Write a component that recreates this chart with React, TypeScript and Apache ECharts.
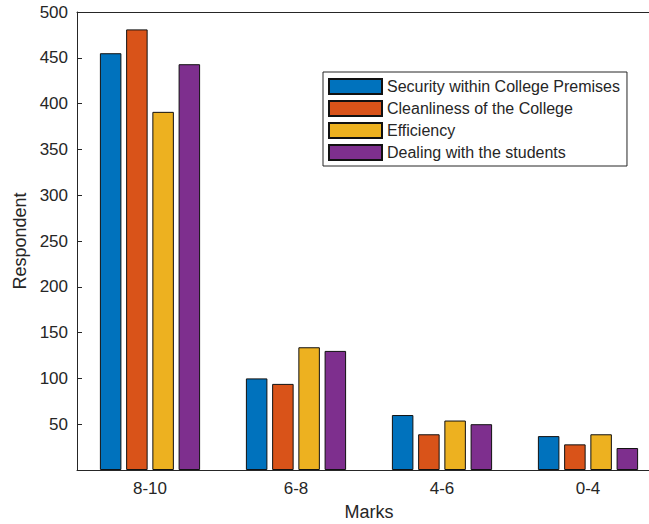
import React, { useEffect, useRef } from "react";
import * as echarts from "echarts";

const categories = ["8-10", "6-8", "4-6", "0-4"];
const seriesNames = [
  "Security within College Premises",
  "Cleanliness of the College",
  "Efficiency",
  "Dealing with the students",
];
const security = [455, 100, 60, 37];
const cleanliness = [481, 94, 39, 28];
const efficiency = [391, 134, 54, 39];
const dealing = [443, 130, 50, 24];
const colors = ["#0072BD", "#D95319", "#EDB120", "#7E2F8E"];

const FONT = "'Liberation Sans', Arial, Helvetica, sans-serif";
const INK = "#262626";

export default function App() {
  const ref = useRef<HTMLDivElement>(null);
  useEffect(() => {
    if (!ref.current) return;
    const chart = echarts.init(ref.current, undefined, { renderer: "svg" });
    const values = [security, cleanliness, efficiency, dealing];
    chart.setOption({
      animation: false,
      backgroundColor: "#ffffff",
      textStyle: { fontFamily: FONT },
      grid: {
        left: 77,
        right: -12,
        top: 12,
        bottom: 54,
        containLabel: false,
        outerBoundsMode: "none",
      },
      legend: {
        orient: "vertical",
        left: 323,
        top: 72,
        padding: [6, 7, 5, 5],
        icon: "rect",
        itemWidth: 53,
        itemHeight: 15,
        itemGap: 5,
        borderColor: INK,
        borderWidth: 1,
        backgroundColor: "#ffffff",
        textStyle: { fontFamily: FONT, fontSize: 16, color: INK },
        data: seriesNames,
      },
      xAxis: [
        {
          type: "category",
          data: categories,
          position: "bottom",
          name: "Marks",
          nameLocation: "middle",
          nameGap: 33,
          nameTextStyle: { fontFamily: FONT, fontSize: 18, color: INK },
          axisLine: { lineStyle: { color: INK, width: 1 } },
          axisTick: { inside: true, alignWithLabel: true, length: 5, lineStyle: { color: INK } },
          axisLabel: { fontFamily: FONT, fontSize: 17, color: INK, margin: 10 },
          splitLine: { show: false },
        },
        {
          type: "category",
          data: categories,
          position: "top",
          axisLine: { lineStyle: { color: INK, width: 1 } },
          axisTick: { inside: true, alignWithLabel: true, length: 5, lineStyle: { color: INK } },
          axisLabel: { show: false },
          splitLine: { show: false },
        },
      ],
      yAxis: {
        type: "value",
        min: 0,
        max: 500,
        interval: 50,
        name: "Respondent",
        nameLocation: "middle",
        nameGap: 45,
        nameTextStyle: { fontFamily: FONT, fontSize: 18, color: INK },
        axisLine: { show: true, lineStyle: { color: INK, width: 1 } },
        axisTick: { show: true, inside: true, length: 5, lineStyle: { color: INK } },
        axisLabel: { fontFamily: FONT, fontSize: 17, color: INK, margin: 9, showMinLabel: false },
        splitLine: { show: false },
      },
      series: seriesNames.map((name, i) => ({
        name,
        type: "bar",
        xAxisIndex: 0,
        data: values[i],
        barWidth: 21.5,
        barGap: "22%",
        itemStyle: { color: colors[i], borderColor: "#111111", borderWidth: 1 },
      })),
    });
    return () => chart.dispose();
  }, []);
  return (
    <div
      ref={ref}
      style={{ position: "fixed", left: 0, top: 0, width: 649, height: 524 }}
    />
  );
}
